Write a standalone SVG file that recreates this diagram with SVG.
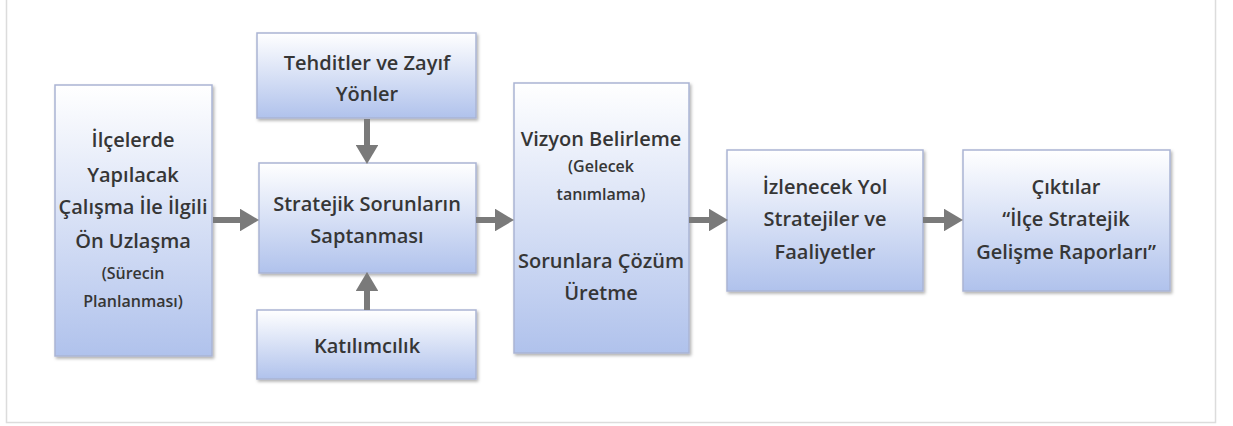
<svg xmlns="http://www.w3.org/2000/svg" width="1233" height="426" viewBox="0 0 1233 426">
<defs>
<linearGradient id="g" x1="0" y1="0" x2="0" y2="1">
<stop offset="0" stop-color="#ffffff"/>
<stop offset="1" stop-color="#b0c2ec"/>
</linearGradient>
<filter id="sh" x="-10%" y="-10%" width="125%" height="125%">
<feDropShadow dx="1.5" dy="2" stdDeviation="1.5" flood-color="#000" flood-opacity="0.3"/>
</filter>
<marker id="ah" markerWidth="3.2" markerHeight="3.8" refX="1.2" refY="1.9" orient="auto" markerUnits="strokeWidth" viewBox="0 0 3.2 3.8">
<path d="M0,0 L3.2,1.9 L0,3.8 Z" fill="#7a7a7a"/>
</marker>
<style>
.box{fill:url(#g);stroke:#aab4d4;stroke-width:1.5;filter:url(#sh)}
.t{font-family:"Open Sans","Noto Sans",sans-serif;font-size:20px;font-weight:600;fill:#363636;text-anchor:middle}
.s{font-size:16px}
.c{stroke:#7a7a7a;stroke-width:6;fill:none;marker-end:url(#ah)}
</style>
</defs>
<rect x="6.5" y="-1" width="1209" height="423.5" fill="#ffffff" stroke="#dcdcdc" stroke-width="1.5"/>
<g id="n1"><rect class="box" x="55" y="85" width="157" height="271"/>
<text class="t" x="133" y="147">İlçelerde</text>
<text class="t" x="133" y="182">Yapılacak</text>
<text class="t" x="133" y="214">Çalışma İle İlgili</text>
<text class="t" x="133" y="248">Ön Uzlaşma</text>
<text class="t s" x="133" y="279">(Sürecin</text>
<text class="t s" x="133" y="307">Planlanması)</text></g>
<g id="n2"><rect class="box" x="257" y="33" width="219" height="85"/>
<text class="t" x="367" y="70">Tehditler ve Zayıf</text>
<text class="t" x="367" y="101">Yönler</text></g>
<g id="n3"><rect class="box" x="259" y="163" width="217" height="110"/>
<text class="t" x="367" y="211">Stratejik Sorunların</text>
<text class="t" x="367" y="243">Saptanması</text></g>
<g id="n4"><rect class="box" x="257" y="310" width="219" height="69"/>
<text class="t" x="367" y="353">Katılımcılık</text></g>
<g id="n5"><rect class="box" x="514" y="83" width="175" height="270"/>
<text class="t" x="601" y="146">Vizyon Belirleme</text>
<text class="t s" x="601" y="172">(Gelecek</text>
<text class="t s" x="601" y="200">tanımlama)</text>
<text class="t" x="601" y="268">Sorunlara Çözüm</text>
<text class="t" x="601" y="300">Üretme</text></g>
<g id="n6"><rect class="box" x="727" y="150" width="196" height="141"/>
<text class="t" x="825" y="194">İzlenecek Yol</text>
<text class="t" x="825" y="226">Stratejiler ve</text>
<text class="t" x="825" y="259">Faaliyetler</text></g>
<g id="n7"><rect class="box" x="963" y="150" width="207" height="141"/>
<text class="t" x="1066" y="194">Çıktılar</text>
<text class="t" x="1066" y="226">“İlçe Stratejik</text>
<text class="t" x="1066" y="259">Gelişme Raporları”</text></g>
<g id="connectors">
<path class="c" d="M213,220 H247"/>
<path class="c" d="M367,119 V152"/>
<path class="c" d="M367,310 V284"/>
<path class="c" d="M476,220 H502"/>
<path class="c" d="M689,220 H716"/>
<path class="c" d="M923,220 H951"/>
</g>
</svg>
